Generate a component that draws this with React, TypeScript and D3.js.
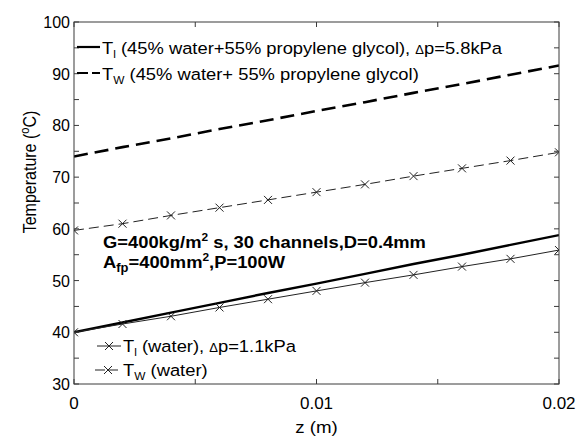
import React from "react";
import * as d3 from "d3";

// z positions (m)
const zVals = [0, 0.002, 0.004, 0.006, 0.008, 0.01, 0.012, 0.014, 0.016, 0.018, 0.02];

// temperatures (°C)
const tlGlycol = [40, 41.9, 43.8, 45.7, 47.6, 49.4, 51.3, 53.2, 55.0, 56.9, 58.8];
const twGlycol = [74.0, 75.8, 77.5, 79.3, 81.0, 82.8, 84.5, 86.3, 88.0, 89.8, 91.6];
const tlWater = [40, 41.6, 43.1, 44.8, 46.4, 48.0, 49.6, 51.1, 52.7, 54.2, 55.9];
const twWater = [59.7, 61.0, 62.6, 64.1, 65.6, 67.1, 68.6, 70.2, 71.7, 73.2, 74.8];

const xTicks = [0, 0.01, 0.02];
const xMinor = [0, 0.005, 0.01, 0.015, 0.02];
const yTicks = [30, 40, 50, 60, 70, 80, 90, 100];
const yMinor = [30, 35, 40, 45, 50, 55, 60, 65, 70, 75, 80, 85, 90, 95, 100];

const W = 577;
const H = 441;
const left = 74, right = 559, top = 22, bottom = 384;
const FONT = "'Liberation Sans', Arial, sans-serif";
const AX = "#3a3a3a";
const FS = 17;

const Cross = ({ x, y }: { x: number; y: number }) => (
  <g stroke="#222" strokeWidth={1}>
    <line x1={x - 4} y1={y - 4} x2={x + 4} y2={y + 4} />
    <line x1={x - 4} y1={y + 4} x2={x + 4} y2={y - 4} />
  </g>
);

// text stretched a bit horizontally, like the reference's rendering
const Wide = ({ x, y, children, bold }: { x: number; y: number; children: React.ReactNode; bold?: boolean }) => (
  <g transform={`translate(${x},${y}) scale(1.08,1)`}>
    <text x={0} y={0} fontSize={FS} fontWeight={bold ? "bold" : "normal"}>
      {children}
    </text>
  </g>
);

export default function App() {
  const x = d3.scaleLinear().domain([0, 0.02]).range([left, right]);
  const y = d3.scaleLinear().domain([30, 100]).range([bottom, top]);

  const line = (vals: number[]) =>
    d3.line<number>().x((_, i) => x(zVals[i])).y((d) => y(d))(vals) || "";

  return (
    <svg width={W} height={H} style={{ position: "absolute", left: 0, top: 0, background: "#fff" }} fontFamily={FONT}>
      <rect width={W} height={H} fill="#fff" />
      <defs>
        <clipPath id="plot">
          <rect x={left} y={top} width={right - left} height={bottom - top} />
        </clipPath>
      </defs>
      {/* data lines */}
      <g clipPath="url(#plot)" fill="none">
        <path d={line(twGlycol)} stroke="#000" strokeWidth={2.6} strokeDasharray="14 7" />
        <path d={line(tlGlycol)} stroke="#000" strokeWidth={2.4} />
        <path d={line(twWater)} stroke="#222" strokeWidth={1} strokeDasharray="10 5" />
        <path d={line(tlWater)} stroke="#222" strokeWidth={1} />
        {zVals.map((z, i) => (
          <Cross key={"a" + i} x={x(z)} y={y(twWater[i])} />
        ))}
        {zVals.map((z, i) => (
          <Cross key={"b" + i} x={x(z)} y={y(tlWater[i])} />
        ))}
      </g>

      {/* frame and ticks */}
      <rect x={left} y={top} width={right - left} height={bottom - top} fill="none" stroke={AX} strokeWidth={1} />
      {xMinor.map((t) => (
        <g key={"xt" + t} stroke={AX}>
          <line x1={x(t)} x2={x(t)} y1={bottom} y2={bottom - 5} />
          <line x1={x(t)} x2={x(t)} y1={top} y2={top + 5} />
        </g>
      ))}
      {yMinor.map((t) => (
        <g key={"yt" + t} stroke={AX}>
          <line x1={left} x2={left + 5} y1={y(t)} y2={y(t)} />
          <line x1={right} x2={right - 5} y1={y(t)} y2={y(t)} />
        </g>
      ))}
      {xTicks.map((t) => (
        <text key={"xl" + t} x={x(t)} y={409} fontSize={17} textAnchor="middle" fill="#000">
          {t === 0 ? "0" : t.toString()}
        </text>
      ))}
      {yTicks.map((t) => (
        <text key={"yl" + t} x={70} y={y(t) + 6} fontSize={16} textAnchor="end" fill="#000">
          {t}
        </text>
      ))}
      <g transform={`translate(${(left + right) / 2},433) scale(1.1,1)`}>
        <text x={0} y={0} fontSize={17} textAnchor="middle">z (m)</text>
      </g>
      <g transform="translate(36,172) rotate(-90) scale(1,1.15)">
        <text x={0} y={0} fontSize={16} textAnchor="middle">
          Temperature (<tspan dy={-6} fontSize={11}>o</tspan><tspan dy={6}>C)</tspan>
        </text>
      </g>

      {/* top legend */}
      <line x1={77} x2={100} y1={47} y2={47} stroke="#000" strokeWidth={2.2} />
      <Wide x={102} y={54}>
        T<tspan dy={4} fontSize={11}>l</tspan><tspan dy={-4}> (45% water+55% propylene glycol), </tspan>
        <tspan fontSize={12}>Δ</tspan>p=5.8kPa
      </Wide>
      <line x1={77} x2={100} y1={73} y2={73} stroke="#000" strokeWidth={2.2} strokeDasharray="11 4" />
      <Wide x={102} y={80}>
        T<tspan dy={4} fontSize={11}>W</tspan><tspan dy={-4}> (45% water+ 55% propylene glycol)</tspan>
      </Wide>

      {/* annotation */}
      <Wide x={103} y={248} bold>
        G=400kg/m<tspan dy={-7} fontSize={11}>2</tspan><tspan dy={7}> s, 30 channels,D=0.4mm</tspan>
      </Wide>
      <Wide x={103} y={268} bold>
        A<tspan dy={4} fontSize={12}>fp</tspan><tspan dy={-4}>=400mm</tspan><tspan dy={-7} fontSize={11}>2</tspan><tspan dy={7}>,P=100W</tspan>
      </Wide>

      {/* bottom legend */}
      <line x1={97} x2={121} y1={346} y2={346} stroke="#222" strokeWidth={1} />
      <Cross x={109} y={346} />
      <Wide x={123} y={352}>
        T<tspan dy={4} fontSize={11}>l</tspan><tspan dy={-4}> (water), </tspan>
        <tspan fontSize={12}>Δ</tspan>p=1.1kPa
      </Wide>
      <line x1={95} x2={121} y1={370} y2={370} stroke="#222" strokeWidth={1} strokeDasharray="10 3" />
      <Cross x={108} y={370} />
      <Wide x={123} y={376}>
        T<tspan dy={4} fontSize={11}>W</tspan><tspan dy={-4}> (water)</tspan>
      </Wide>
    </svg>
  );
}
